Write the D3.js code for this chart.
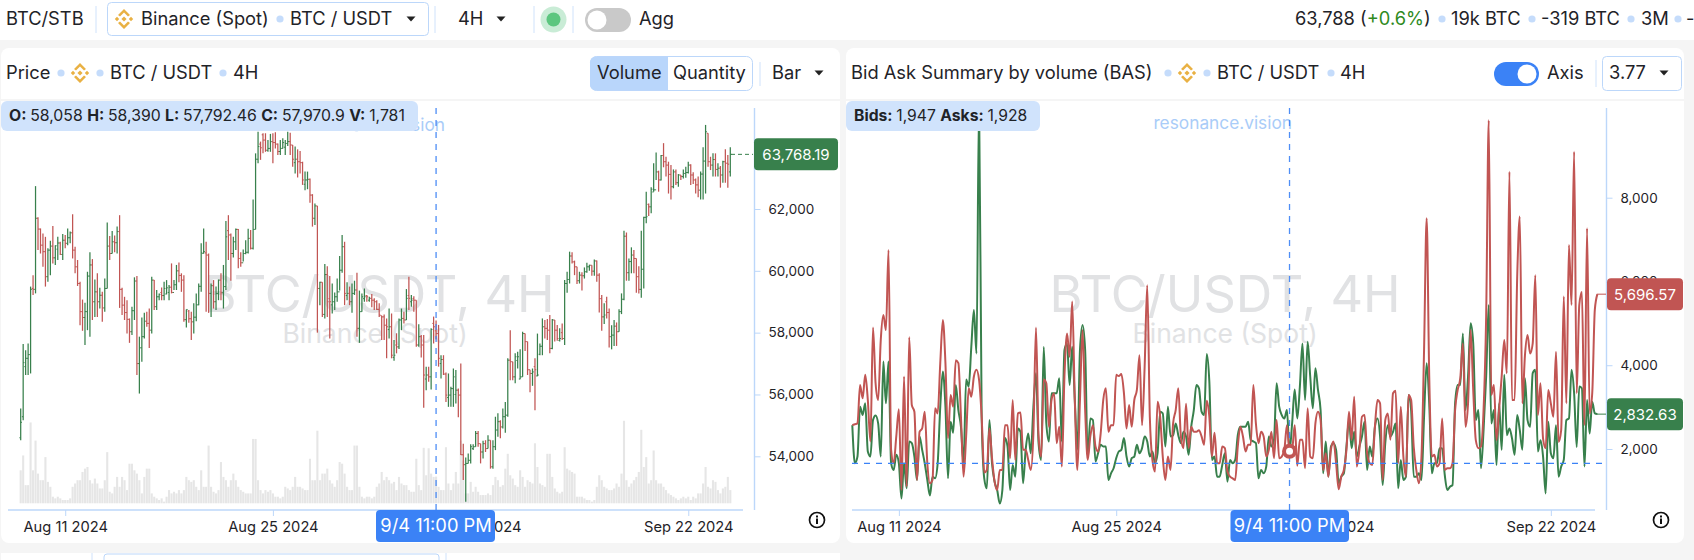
<!DOCTYPE html>
<html><head><meta charset="utf-8">
<script src="https://cdnjs.cloudflare.com/ajax/libs/d3/7.8.5/d3.min.js"></script>
<style>html,body{margin:0;padding:0;background:#f5f5f5;overflow:hidden}svg{display:block}text{font-family:Inter,"Noto Sans",sans-serif;fill:#222}</style>
</head><body><svg id="c" width="1694" height="560"></svg>
<script>
// Prices in thousands of USD, one entry per 4H bar
const highs=[55.55,57.63,57.43,57.65,59.49,59.86,62.74,61.73,61.37,61.21,
61.1,60.73,60.97,61.45,60.83,61.1,60.94,61.19,61.16,61.37,
61.27,61.83,60.78,60.35,59.65,59.07,58.97,59.97,60.6,60.38,
59.72,59.92,59.45,59.32,59.75,61.56,61.13,61.29,61.14,61.43,
61.8,59.45,59.16,59.05,58.46,58.84,59.79,59.83,57.87,58.49,
58.64,58.68,58.78,59.81,59.7,59.38,59.27,59.46,59.65,59.7,
59.54,60.24,59.7,60.19,60.27,59.92,59.86,58.75,58.73,58.68,
58.95,59.27,59.59,60.89,61.37,60.94,60.56,59.59,59.7,59.49,
59.72,59.92,60.19,61.61,61.8,61.21,61.1,61.37,61.35,60.6,
60.69,60.99,61.36,61.32,62.31,63.8,64.5,64.18,64.45,64.45,
64.23,64.43,64.45,64.48,64.12,64.23,64.29,64.23,64.5,64.47,
64.07,64.02,63.93,63.88,63.53,63.21,63.21,62.99,62.48,62.18,
62.1,59.65,59.63,60.22,60.15,59.83,59.59,59.3,59.75,60.48,
61.16,60.94,59.63,59.49,59.59,59.68,59.94,59.36,59.27,59.43,
59.22,59.16,59.25,59.11,59.05,58.95,58.55,58.59,58.46,58.78,
58.62,57.76,57.98,58.46,58.78,58.68,59.41,59.81,59.22,59.18,
59.05,58.27,57.92,57.92,56.9,56.9,58.14,58.52,58.39,58.25,
57.27,57.27,56.71,56.68,56.25,56.84,56.79,56.19,57.0,54.41,
53.96,54.09,54.39,54.39,54.82,54.82,54.41,54.5,54.52,54.68,
54.52,54.52,55.28,55.39,55.17,55.55,55.76,57.17,58.08,57.06,
57.33,57.38,57.46,58.03,57.97,57.71,56.8,56.84,57.17,57.97,
57.65,58.46,58.41,58.44,58.57,58.44,58.41,58.25,58.14,58.3,
59.7,59.97,60.62,60.6,60.33,60.13,59.97,59.95,60.11,60.26,
60.2,60.18,60.37,60.33,59.92,59.22,58.95,59.16,58.78,58.24,
58.41,58.33,58.76,59.27,61.3,61.24,60.4,60.76,60.67,60.4,
60.15,61.3,61.75,62.56,62.18,62.7,63.48,63.83,63.24,63.75,
64.13,63.69,63.53,63.42,63.28,63.28,63.13,63.1,63.28,63.37,
63.53,63.45,63.19,62.99,63.05,63.21,64.0,64.72,64.45,63.69,
63.8,63.8,63.48,63.39,63.56,63.93,63.75,64.0];
const lows=[54.52,55.17,56.63,56.63,56.68,59.22,59.27,60.67,60.56,60.13,
59.49,59.65,59.86,60.24,60.19,60.35,60.51,60.35,60.73,60.83,
60.89,60.4,59.92,59.51,58.24,58.06,57.6,58.08,57.87,58.41,
58.51,58.51,58.78,58.35,58.68,59.43,60.35,60.56,60.6,60.56,
58.8,58.57,58.41,57.97,57.67,57.92,58.41,56.63,56.03,57.06,
57.81,58.19,57.5,57.97,58.73,58.73,59.05,59.05,59.05,59.24,
59.05,59.27,59.38,59.38,59.63,59.32,58.35,58.17,58.32,57.76,
57.97,58.37,58.89,59.32,60.56,58.68,58.64,58.51,58.78,58.73,
59.05,59.05,58.78,59.38,60.35,59.68,60.43,60.67,60.08,60.13,
60.3,60.54,60.56,60.69,60.69,61.34,63.48,63.59,63.8,63.85,
63.85,63.85,63.48,63.96,63.75,63.75,63.96,63.75,64.04,63.75,
63.37,63.15,63.02,63.15,62.78,62.61,62.64,62.2,61.43,61.48,
58.0,58.89,58.51,58.46,58.51,57.81,58.62,58.73,59.0,59.36,
59.94,58.89,59.05,58.89,58.64,59.22,57.87,57.67,58.68,59.0,
59.0,59.0,58.82,58.73,58.73,58.51,57.76,57.76,57.17,57.81,
57.17,57.09,57.33,57.47,58.08,58.3,58.41,58.73,58.84,58.68,
57.54,57.54,57.2,55.57,56.14,56.41,56.16,57.65,57.79,56.9,
56.52,56.63,55.76,55.6,55.6,55.6,55.71,55.26,54.04,53.23,
52.53,53.77,53.77,54.2,54.31,54.31,53.77,53.93,54.14,54.25,
53.6,53.6,54.2,54.63,54.58,54.9,54.76,55.28,56.46,56.46,
56.36,56.84,56.49,56.57,57.41,56.63,56.07,56.28,55.49,56.59,
57.27,57.27,57.81,57.76,57.33,57.46,57.71,57.74,57.71,57.76,
57.6,59.29,59.59,60.24,59.86,59.57,59.59,59.36,59.75,59.94,
60.0,59.84,59.84,59.65,58.65,58.06,58.28,58.46,57.52,57.46,
57.57,57.57,58.03,58.6,59.05,59.68,59.68,59.92,59.92,59.29,
59.27,59.13,59.43,61.54,61.77,61.86,62.56,62.94,62.56,62.92,
63.35,63.05,62.5,62.31,62.67,62.78,62.72,62.94,62.99,63.01,
63.15,62.78,62.81,62.5,62.38,62.31,62.31,62.5,63.37,63.26,
63.05,63.05,63.05,62.69,62.85,62.85,62.69,63.05];
const opens=[54.6,55.28,56.9,57.17,57.29,59.43,59.4,61.7,61.35,60.83,
60.62,59.81,60.67,60.8,60.42,60.7,60.9,60.53,60.99,60.89,
61.07,61.23,60.67,60.13,59.59,58.68,58.49,58.68,59.83,60.19,
59.0,59.32,59.0,59.21,58.8,59.43,60.8,60.56,60.94,60.91,
61.27,59.4,58.89,58.65,58.43,58.03,58.71,59.67,57.0,57.51,
57.87,58.37,58.3,58.08,59.7,58.84,59.16,59.3,59.2,59.25,
59.3,59.47,59.3,59.55,60.0,59.85,59.7,58.42,58.7,58.45,
58.35,58.5,58.9,59.5,60.56,60.58,60.51,59.27,59.52,59.0,
59.27,59.7,59.29,59.49,61.3,61.16,60.56,60.94,61.34,60.4,
60.26,60.56,60.6,61.05,60.73,61.34,63.61,64.1,64.4,64.23,
63.9,63.96,64.18,64.15,64.1,63.86,63.96,64.0,64.12,64.18,
64.07,63.5,63.61,63.53,63.5,62.8,62.94,62.96,62.45,61.7,
62.1,59.43,59.63,58.59,59.88,59.1,58.9,59.0,59.16,59.32,
60.02,60.78,59.2,59.27,59.0,59.27,59.38,58.14,58.68,59.1,
59.2,59.05,59.11,59.05,59.0,58.75,58.55,58.51,58.24,58.1,
58.19,57.2,57.6,57.54,58.41,58.46,58.41,59.2,59.0,59.1,
59.05,57.6,57.87,57.6,56.5,56.63,56.57,58.3,58.058,57.97,
57.0,57.13,56.66,55.9,55.98,56.19,56.0,56.14,55.98,54.05,
53.73,53.77,53.87,54.25,54.31,54.74,54.41,54.14,54.41,54.25,
54.52,53.66,54.31,54.85,55.12,54.95,55.28,55.33,57.11,57.06,
56.57,57.1,56.5,56.57,57.97,57.71,56.8,56.68,56.9,56.6,
57.3,57.56,58.19,58.14,58.08,57.49,58.41,58.08,57.75,58.0,
57.81,59.59,59.72,60.48,60.29,60.13,59.68,59.86,59.84,59.97,
60.13,60.18,59.99,60.32,59.86,59.1,58.51,59.0,58.65,57.87,
57.92,58.21,58.03,58.68,59.08,61.12,59.94,60.3,60.51,60.4,
59.81,59.4,60.05,61.73,62.15,62.07,62.55,62.62,63.2,62.94,
63.73,63.53,63.42,63.12,62.72,63.2,62.85,63.1,63.05,63.15,
63.18,63.42,63.1,62.94,62.78,62.61,63.13,63.55,64.45,63.53,
63.42,63.6,63.28,63.32,63.1,63.53,63.48,63.2];
const closes=[55.1,57.03,57.17,57.29,59.4,59.4,61.7,61.35,60.83,60.62,
59.81,60.67,60.8,60.42,60.81,60.9,60.53,60.99,60.89,61.07,
61.23,60.67,60.13,59.59,58.68,58.49,58.68,59.83,60.19,59.0,
59.32,59.0,59.21,58.8,59.43,60.8,60.56,60.94,60.91,61.27,
59.4,58.89,58.65,58.43,58.03,58.71,59.67,57.0,57.51,57.87,
58.37,58.3,58.08,59.7,58.84,59.16,59.24,59.2,59.43,59.45,
59.47,59.3,59.55,60.0,59.85,59.7,58.42,58.75,58.45,58.35,
58.5,58.9,59.5,60.58,60.62,60.51,59.27,59.52,59.0,59.27,
59.7,59.29,59.49,61.1,61.16,60.56,60.94,61.34,60.4,60.26,
60.56,60.6,61.05,60.73,61.34,63.61,64.02,63.98,64.23,63.9,
63.96,64.18,64.15,64.1,63.86,63.96,64.15,64.12,64.18,64.07,
63.61,63.61,63.53,63.5,62.94,62.94,62.96,62.45,61.7,62.1,
59.43,59.63,58.59,59.88,59.0,59.0,59.0,59.16,59.32,60.02,
60.78,59.27,59.27,59.0,59.27,59.38,58.14,58.68,59.16,59.16,
59.16,59.11,59.05,59.0,58.75,58.57,58.51,58.24,58.19,58.19,
57.27,57.27,57.54,58.41,58.46,58.41,59.11,59.11,59.05,59.05,
57.6,57.87,57.6,56.63,56.63,56.57,58.1,58.19,57.97,57.17,
57.13,56.66,55.98,55.98,56.19,56.57,56.14,55.98,54.05,53.73,
53.77,53.87,54.31,54.31,54.74,54.41,54.14,54.41,54.25,54.52,
53.66,54.31,54.85,55.12,54.95,55.28,55.33,57.11,57.06,56.57,
57.22,57.22,56.57,57.97,57.71,56.8,56.68,56.73,56.8,56.63,
57.56,58.19,58.14,58.08,57.49,58.41,58.08,57.81,57.81,57.81,
59.59,59.72,60.48,60.29,60.13,59.68,59.86,59.84,59.97,60.13,
60.18,59.99,60.32,59.86,59.1,58.51,58.57,58.65,57.87,57.92,
58.21,58.03,58.68,59.08,61.12,59.94,60.3,60.51,60.4,59.81,
59.4,60.05,61.73,61.75,62.07,62.64,62.62,63.2,62.94,63.73,
63.53,63.42,63.12,62.72,63.2,62.85,63.1,63.05,63.15,63.18,
63.42,63.1,62.94,62.78,62.61,63.13,63.55,64.5,63.53,63.42,
63.6,63.28,63.32,63.1,63.53,63.48,63.45,63.768];
const volumes=[2200,3190,1210,1210,5390,2200,4180,1980,1540,1540,
3080,1430,1100,440,330,440,330,220,220,220,
330,1100,1320,1540,1540,2090,2310,2420,1540,1320,
1650,1320,990,990,1540,3410,770,660,1100,1760,
1100,1760,1540,880,2640,2640,2200,1980,1540,660,
1760,2310,2310,660,440,330,220,330,110,440,
880,660,770,660,880,660,880,1760,1540,1430,
1540,1100,880,2200,1100,1100,3850,1100,770,660,
880,2750,1760,1540,1100,1540,1980,1540,1100,880,
770,660,660,660,4290,4290,1540,880,660,880,
770,880,660,440,440,330,440,1100,990,880,
1100,1760,1100,1100,990,880,880,2970,1540,1540,
4840,1540,1980,1980,2310,1540,1320,1100,1540,2750,
2640,1980,1100,880,880,3850,3850,1100,440,330,
440,440,330,440,1100,1320,2090,1540,1760,1540,
1320,1430,880,1760,1320,1210,1210,880,770,770,
2970,1210,880,3700,1870,3670,1980,1760,1781,1100,
880,880,3740,1320,880,1320,2090,1320,4180,2860,
660,660,1430,770,1100,770,550,550,550,660,
550,1210,1760,1540,1100,1210,2310,3300,1870,1650,
1210,1100,2200,1760,1100,1540,1430,1320,4000,2420,
1320,1210,1100,3300,3300,1760,990,770,660,770,
3740,2310,2200,2090,1980,440,440,440,330,220,
220,110,220,1100,1870,1540,1100,990,880,880,
990,1320,1100,1980,5500,1540,1100,1320,1540,1760,
2090,4900,2420,3080,1320,1540,3520,1540,1320,1320,
1100,880,660,550,440,330,220,330,440,330,
440,220,440,330,660,660,1320,2420,1100,990,
1540,1430,880,660,990,1100,1760,880];
const bids=[2570,1660,1820,3010,2810,3090,1940,1820,2690,2800,
2610,1820,4090,3090,4090,1660,1500,1860,1660,820,
1660,1060,2180,2140,1820,1260,2300,1980,1660,1260,
890,1340,1300,1660,3010,3850,3010,1300,2650,2390,
3530,2930,2530,1660,3660,3490,4440,5320,4280,10300,
2770,1300,1060,2690,1660,1220,1020,700,1020,2260,
2060,1020,1620,1340,2490,2410,1180,1980,2370,1900,
3010,3810,2140,1740,4440,2610,2180,3330,3330,3330,
3690,2180,4360,4520,3530,4440,3170,1980,4360,4960,
4360,1780,2730,2690,1700,1900,2100,2060,2060,1260,
1420,1540,1780,1940,1980,2260,1820,1580,1780,1820,
2100,1900,2020,2300,2180,1820,1940,1660,1900,2890,
2850,2060,3010,2300,2330,2610,2330,2140,2410,2300,
1860,2530,2930,3530,3450,2890,2810,4270,3610,1740,
1820,1340,1340,1620,1900,1220,1740,1660,1740,2330,
2530,2530,2530,2650,2220,2180,2140,1300,1500,1420,
1580,2300,2060,2220,3570,3010,2810,2730,2930,1947,
2610,3420,2730,3490,4520,3170,4560,3730,2970,3930,
3410,2930,1420,2180,1340,2060,2140,1980,1180,1340,
1420,2060,2690,2020,2410,1820,2060,2300,2650,1500,
2060,1820,2530,2730,2300,1140,2140,2570,2300,2410,
2610,1060,1740,1260,1340,3290,2930,1340,1340,1420,
1260,2770,4050,3090,1420,1660,1660,2020,2020,1380,
1020,1100,1140,3090,3530,3530,4760,2930,3730,5000,
4520,2690,2930,1540,2450,3730,5440,2610,2930,1620,
3090,1980,3770,2330,2490,2250,1860,2810,2450,1980,
3690,2690,2530,3810,3890,1940,2210,1820,940,2650,
1900,1780,2570,1340,1580,1740,2690,2730,3890,3330,
2050,3490,3450,1580,3170,2370,3130,2850,2832.63];
const asks=[2570,2590,2610,3530,3210,3770,3170,2180,4900,3570,
3170,4600,5200,4840,6750,1980,1660,2300,2950,1020,
3730,1100,4670,3050,2890,1260,2410,2490,2890,1660,
1180,1260,2970,2850,4050,5080,4050,2260,3290,3010,
4120,4050,2770,1340,2300,3450,3250,3730,3890,3650,
2770,1440,1500,2490,1780,1220,1020,1500,1500,2570,
2570,1780,3170,1740,2850,2870,1980,1980,1740,1500,
2370,4900,2300,1820,3660,3570,2530,3170,3330,2140,
2530,1580,3730,4760,4200,5520,3170,1500,3170,4840,
2930,1740,2300,2570,2060,1940,2370,3170,3450,2410,
2570,2570,3770,3740,3790,3330,2490,3050,2530,3170,
3410,4240,2570,3970,5910,2770,1740,1460,3130,2770,
1820,1260,1820,1500,2610,2930,3450,2300,2020,3080,
2020,2530,2410,2410,2450,2300,2100,3150,2770,1820,
2390,1660,1660,2060,2020,1460,1340,1300,1260,2060,
2530,2300,1940,2100,2100,3530,2610,2140,2410,2300,
1820,1980,2410,1780,2690,1780,1820,1980,2570,1928,
1980,2570,1600,2220,2220,1540,2970,1820,1780,2610,
2890,2690,1500,1900,1340,1980,2180,1660,1040,1340,
1500,1980,2890,2220,3250,1580,1980,2770,2810,1900,
1660,1620,2530,3170,3090,1260,2690,2850,2220,3330,
3390,1660,3010,1820,1340,3290,3170,2060,1500,1180,
1820,4360,7510,3730,1820,1860,1580,1660,2730,1500,
1540,1540,1660,2930,3410,3690,4520,2530,3090,4840,
3410,2210,2020,2060,2930,5160,9850,3290,3530,2210,
2930,3730,4600,3810,8620,3170,3170,6110,7550,3090,
4240,4720,4280,4520,6150,2810,3570,2250,2020,3410,
3090,2770,4320,2170,2450,5640,3090,6870,5440,9100,
3330,5440,5750,2570,7270,2850,3330,5320,5696.57];
const priceTicks=[54,56,58,60,62];
const basTicks=[2000,4000,6000,8000];
const dateTicks=["Aug 11 2024","Aug 25 2024","Sep 8 2024","Sep 22 2024"];
const dateTickBars=[18,102,186,270];
const crossBar=168, crossLabel="9/4 11:00 PM", basRef=1658;

const GREEN="#38804c",RED="#c15553",BLUE="#3b82f6",PALE="#bcd7fa",DOT="#c5dcfb";
const svg=d3.select("#c");
const T=(x,y,s,o={})=>{const t=svg.append("text").attr("x",x).attr("y",y).text(s)
  .attr("font-size",o.size||18.3).attr("font-weight",o.w||400).attr("text-anchor",o.a||"start");
  t.style("fill",o.fill||"#1f2328");return t;};
const R=(x,y,w,h,f,o={})=>svg.append("rect").attr("x",x).attr("y",y).attr("width",w).attr("height",h)
  .attr("rx",o.r||0).attr("fill",f).attr("stroke",o.s||"none").attr("stroke-width",o.sw||1);
const Dot=(x,y)=>svg.append("circle").attr("cx",x).attr("cy",y).attr("r",3.6).attr("fill",DOT);
const Sep=(x,y1,y2)=>svg.append("line").attr("x1",x).attr("x2",x).attr("y1",y1).attr("y2",y2).attr("stroke","#cfe2fb");
const Caret=(x,y)=>svg.append("path").attr("d",`M${x-4.5},${y-2.5}h9l-4.5,5z`).attr("fill","#222");
function Icon(cx,cy){const g=svg.append("g").attr("fill","#e9b143").attr("transform",`translate(${cx},${cy})`);
  const d=(x,y,r)=>g.append("path").attr("d",`M${x},${y-r}L${x+r},${y}L${x},${y+r}L${x-r},${y}Z`);
  d(0,0,2.6);d(-7,0,2.2);d(7,0,2.2);
  g.append("path").attr("d","M0,-10L6,-4L4,-2.4L0,-6.4L-4,-2.4L-6,-4Z");
  g.append("path").attr("d","M0,10L6,4L4,2.4L0,6.4L-4,2.4L-6,4Z");}
function Info(x,y){svg.append("circle").attr("cx",x).attr("cy",y).attr("r",7.5).attr("fill","none").attr("stroke","#111").attr("stroke-width",1.7);
  svg.append("rect").attr("x",x-1).attr("y",y-1.5).attr("width",2).attr("height",5.5).attr("fill","#111");
  svg.append("rect").attr("x",x-1).attr("y",y-4.5).attr("width",2).attr("height",2).attr("fill","#111");}
function Toggle(x,y,w,h,on){R(x,y,w,h,on?BLUE:"#c9c9c9",{r:h/2});
  svg.append("circle").attr("cx",on?x+w-h/2:x+h/2).attr("cy",y+h/2).attr("r",h/2-2.5).attr("fill","#fff");}

// panels
R(0,0,1694,40,"#fff");
R(1,48,839,495,"#fff",{r:8});
R(846,48,838,495,"#fff",{r:8});
R(0,99,840,2,"#f5f5f5");R(846,99,838,2,"#f5f5f5");
R(1,553,839,7,"#fff");
R(104,554,335,10,"#fff",{s:PALE,r:3});
Sep(92,553,560);Sep(446,553,560);

// top bar
T(6,25,"BTC/STB");Sep(96,6,33);
R(107.5,2.5,321,33,"#fff",{s:PALE,r:4});
Icon(124,19);T(141,25,"Binance (Spot)");Dot(280,19);T(290,25,"BTC / USDT");Caret(411,19);
Sep(435,6,33);T(458,25,"4H");Caret(501,19);Sep(534,6,33);
svg.append("circle").attr("cx",553.5).attr("cy",19.5).attr("r",13).attr("fill","#c9ecd6");
svg.append("circle").attr("cx",553.5).attr("cy",19.5).attr("r",7).attr("fill","#5cc67f");
Sep(573,6,33);Toggle(585,8,46,24,false);T(639,25,"Agg");
const tp=T(1295,25,"63,788 (");tp.append("tspan").text("+0.6%").style("fill","#2f8a1e");tp.append("tspan").text(")");
Dot(1442,19);T(1451,25,"19k BTC");Dot(1532,19);T(1541,25,"-319 BTC");Dot(1631,19);T(1641,25,"3M");Dot(1678,19);T(1686,25,"-");

// left header
T(6,79,"Price");Dot(61,73);Icon(80,73);Dot(100,73);T(110,79,"BTC / USDT");Dot(223,73);T(233,79,"4H");
R(590.5,56.5,162,34,"#fff",{s:PALE,r:6});
svg.append("path").attr("d","M668,56.5V90.5H596a6,6 0 0 1 -6,-6V62.500a6,6 0 0 1 6,-6Z").attr("fill","#b9d6fb");
T(597,79,"Volume");T(673,79,"Quantity");Sep(760,62,86);T(772,79,"Bar");Caret(819,73);

// right header
T(851,79,"Bid Ask Summary by volume (BAS)");Dot(1168,73);Icon(1187,73);Dot(1207,73);T(1217,79,"BTC / USDT");Dot(1331,73);T(1340,79,"4H");
Toggle(1494,62,45,24,true);T(1547,79,"Axis");Sep(1596,60,87);
R(1602.5,56.5,79,34,"#fff",{s:PALE,r:4});T(1609,79,"3.77");Caret(1664,73);

// watermarks
const wm="#e1e2e4";
T(379,312,"BTC/USDT, 4H",{size:50.5,a:"middle",fill:wm});
T(375,343,"Binance (Spot)",{size:26.5,a:"middle",fill:wm});
T(1225,312,"BTC/USDT, 4H",{size:50.5,a:"middle",fill:wm});
T(1225,343,"Binance (Spot)",{size:26.5,a:"middle",fill:wm});
T(445,131,"resonance.vision",{size:17.3,a:"end",fill:"#a9ccf8"});
T(1292,129,"resonance.vision",{size:17.3,a:"end",fill:"#a9ccf8"});

// scales
const xL=d3.scaleLinear().domain([0,287]).range([20.7,730.3]);
const yP=d3.scaleLinear().domain([54,62]).range([456.3,209]);
const yV=d3.scaleLinear().domain([0,5400]).range([503.3,422.3]);
const xR=d3.scaleLinear().domain([0,288]).range([852.3,1597.4]);
const yB=d3.scaleLinear().domain([2000,8000]).range([449,197.7]);

svg.append("clipPath").attr("id","cl").append("rect").attr("x",8).attr("y",108).attr("width",735).attr("height",402);
svg.append("clipPath").attr("id","cr").append("rect").attr("x",848).attr("y",108).attr("width",755).attr("height",402);

// volume
svg.append("g").selectAll("rect").data(volumes).join("rect")
  .attr("x",(d,i)=>xL(i)-1.05).attr("width",2.1).attr("y",d=>yV(d)).attr("height",d=>yV(0)-yV(d)).attr("fill","#e6e6e6");
// OHLC
const gB=svg.append("g").attr("clip-path","url(#cl)");
const col=i=>closes[i]>=opens[i]?GREEN:RED;
closes.forEach((c,i)=>{const x=xL(i),g=gB.append("g").attr("stroke",col(i)).attr("stroke-width",1);
  g.append("line").attr("x1",x).attr("x2",x).attr("y1",yP(highs[i])).attr("y2",yP(lows[i])).attr("stroke-width",1.25);
  g.append("line").attr("x1",x-1.3).attr("x2",x).attr("y1",yP(opens[i])).attr("y2",yP(opens[i]));
  g.append("line").attr("x1",x).attr("x2",x+1.3).attr("y1",yP(c)).attr("y2",yP(c));});

// BAS lines
const line=d3.line().x((d,i)=>xR(i)).y(d=>yB(d)).curve(d3.curveMonotoneX);
const gL=svg.append("g").attr("clip-path","url(#cr)").attr("fill","none").attr("stroke-width",2);
gL.append("path").attr("d",line(bids)).attr("stroke",GREEN);
gL.append("path").attr("d",line(asks)).attr("stroke",RED);

// axes
function styleAxis(g){g.selectAll(".domain").attr("stroke",PALE).attr("stroke-width",1.4);
  g.selectAll(".tick line").attr("stroke",PALE);
  g.selectAll("text").style("font-family","Inter,sans-serif").style("fill","#1f2328");}
const ayL=svg.append("g").attr("transform","translate(754.5,0)")
  .call(d3.axisRight(d3.scaleLinear().domain(yP.domain()).range(yP.range())).tickValues(priceTicks).tickFormat(d=>d3.format(",")(d*1000)).tickSizeOuter(0).tickPadding(8));
ayL.select(".domain").attr("d","M0,108V510");styleAxis(ayL);ayL.selectAll("text").attr("font-size",13.5);
const ayR=svg.append("g").attr("transform","translate(1606.5,0)")
  .call(d3.axisRight(yB).tickValues(basTicks).tickFormat(d3.format(",")).tickSizeOuter(0).tickPadding(8));
ayR.select(".domain").attr("d","M0,108V510");styleAxis(ayR);ayR.selectAll("text").attr("font-size",13.5);
function xAxis(sc,x0,x1){const g=svg.append("g").attr("transform","translate(0,510)")
  .call(d3.axisBottom(sc).tickValues(dateTickBars).tickFormat((d,i)=>dateTicks[i]).tickSizeOuter(0).tickSize(6).tickPadding(6));
  g.select(".domain").attr("d",`M${x0},0H${x1}`);styleAxis(g);g.selectAll("text").attr("font-size",14.7);return g;}
xAxis(xL,8,743);
xAxis(xR,852,1595);

// crosshair + reference
const dash="6,6";
svg.append("line").attr("x1",xL(crossBar)).attr("x2",xL(crossBar)).attr("y1",108).attr("y2",510).attr("stroke",BLUE).attr("stroke-width",1.3).attr("stroke-dasharray",dash).attr("opacity",.9);
svg.append("line").attr("x1",xR(crossBar+1)).attr("x2",xR(crossBar+1)).attr("y1",108).attr("y2",510).attr("stroke",BLUE).attr("stroke-width",1.3).attr("stroke-dasharray",dash).attr("opacity",.9);
svg.append("line").attr("x1",852).attr("x2",1603).attr("y1",yB(basRef)).attr("y2",yB(basRef)).attr("stroke",BLUE).attr("stroke-width",1.3).attr("stroke-dasharray",dash);
svg.append("circle").attr("cx",xR(crossBar+1)).attr("cy",yB(bids[crossBar+1])).attr("r",5.5).attr("fill","#fff").attr("stroke",RED).attr("stroke-width",4);

// last-value leaders and labels
svg.append("line").attr("x1",731).attr("x2",753).attr("y1",yP(closes[287])).attr("y2",yP(closes[287])).attr("stroke",GREEN).attr("stroke-dasharray","4,3");
svg.append("line").attr("x1",1597).attr("x2",1606).attr("y1",yB(asks[288])).attr("y2",yB(asks[288])).attr("stroke",RED);
svg.append("line").attr("x1",1597).attr("x2",1606).attr("y1",yB(bids[288])).attr("y2",yB(bids[288])).attr("stroke",GREEN);
const Lab=(x,yc,w,s,f)=>{R(x,yc-16,w,32,f,{r:4});T(x+w/2,yc+5.5,s,{size:15,a:"middle",fill:"#fff"});};
Lab(754,yP(closes[287]),84,"63,768.19",GREEN);
Lab(1607,yB(asks[288]),76,"5,696.57",RED);
Lab(1607,yB(bids[288]),76,"2,832.63",GREEN);

// tooltips
R(1,101,417,30,"#d0e3fc",{r:6});
const tt=T(9,121,"",{size:15.8});
[["O: ",58058],["H: ",58390],["L: ","57,792.46"],["C: ","57,970.9"],["V: ",1781]].forEach(([k,v],i)=>{
  tt.append("tspan").text(k).attr("font-weight",700);
  tt.append("tspan").text((typeof v==="number"?d3.format(",")(v):v)+(i<4?" ":""));});
R(846,101,194,30,"#d0e3fc",{r:6});
const tb=T(854,121,"",{size:15.7});
tb.append("tspan").text("Bids: ").attr("font-weight",700);tb.append("tspan").text(d3.format(",")(bids[crossBar+1])+" ");
tb.append("tspan").text("Asks: ").attr("font-weight",700);tb.append("tspan").text(d3.format(",")(asks[crossBar+1]));

// crosshair date labels
[[xL(crossBar),376,119],[xR(crossBar+1),1230.5,118.5]].forEach(([cx,x,w])=>{
  R(x,510,w,32,BLUE,{r:4});T(cx,532,crossLabel,{size:18.3,a:"middle",fill:"#fff"});});
Info(817,520);Info(1661,520);
</script></body></html>
